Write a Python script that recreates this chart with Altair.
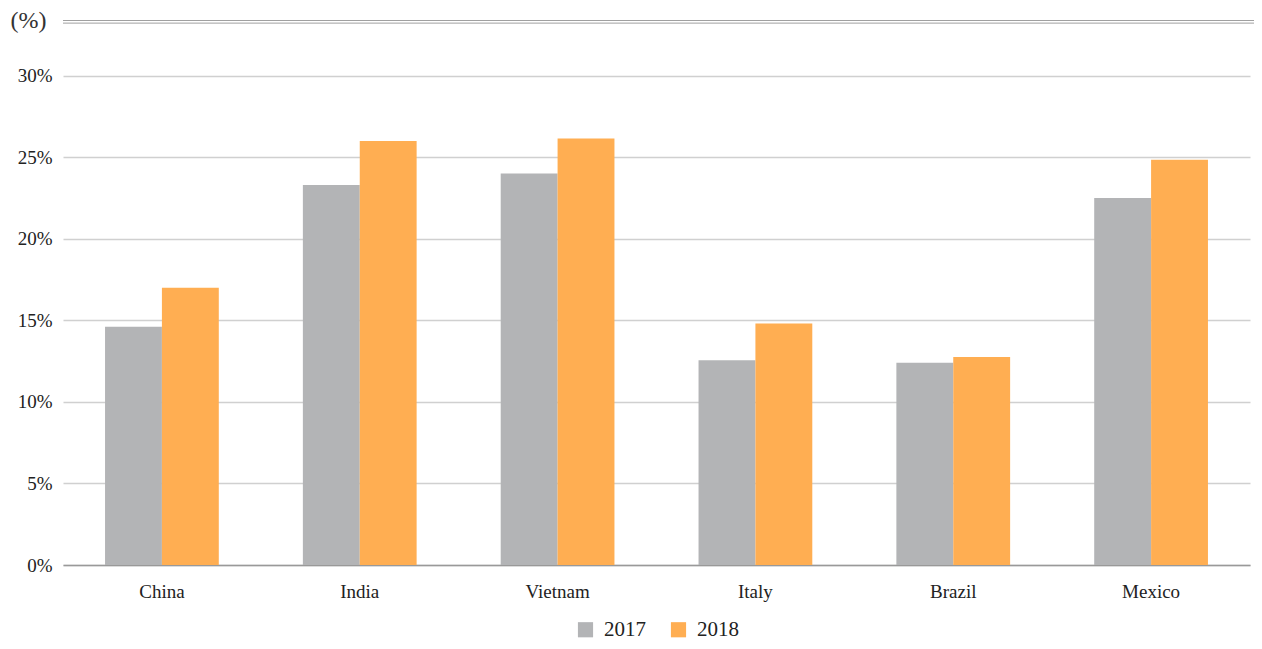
import altair as alt
import pandas as pd

countries = ["China", "India", "Vietnam", "Italy", "Brazil", "Mexico"]
v2017 = [14.6, 23.3, 24.0, 12.55, 12.4, 22.5]
v2018 = [17.0, 26.0, 26.15, 14.8, 12.75, 24.85]
years = ["2017", "2018"]
tick_values = [0, 5, 10, 15, 20, 25, 30]
top_lines = [33.22, 33.38]

rows = []
for c, a, b in zip(countries, v2017, v2018):
    rows.append({"country": c, "year": "2017", "value": a})
    rows.append({"country": c, "year": "2018", "value": b})
df = pd.DataFrame(rows)
lines_df = pd.DataFrame({"y": top_lines})

FONT = "Liberation Serif"
W, H = 1187, 544

bars = alt.Chart(df).mark_bar().encode(
    x=alt.X("country:N", sort=countries, title=None,
            scale=alt.Scale(paddingInner=0.425, paddingOuter=0.2125),
            axis=alt.Axis(labelAngle=0, labelFontSize=19, labelFont=FONT,
                          labelColor="#222", labelPadding=17, ticks=False,
                          grid=False,
                          domain=True, domainColor="#999", domainWidth=1.5)),
    xOffset=alt.XOffset("year:N", sort=years),
    y=alt.Y("value:Q", scale=alt.Scale(domain=[0, 33.35], nice=False),
            axis=alt.Axis(values=tick_values, labelExpr="datum.value + '%'",
                          labelFontSize=19, labelFont=FONT, labelColor="#222",
                          labelPadding=11, ticks=False, domain=False,
                          gridColor="#d0d0d0", gridWidth=1.5,
                          title="(%)", titleAngle=0, titleFont=FONT,
                          titleFontSize=24, titleFontWeight="normal",
                          titleColor="#333", titleAlign="left",
                          titleBaseline="middle", titleX=-53, titleY=-1)),
    color=alt.Color("year:N", sort=years,
                    scale=alt.Scale(domain=years, range=["#b3b4b6", "#ffae52"]),
                    legend=alt.Legend(title=None, orient="none", direction="horizontal",
                                      legendX=512, legendY=598,
                                      symbolType="square", symbolSize=230,
                                      symbolStrokeWidth=0, labelFont=FONT,
                                      labelFontSize=21, labelColor="#222",
                                      columnPadding=22, labelOffset=8)),
)

rules = alt.Chart(lines_df).mark_rule(color="#a0a0a0", strokeWidth=1).encode(
    y=alt.Y("y:Q"),
    x=alt.value(0),
    x2=alt.value(W + 4),
)

chart = alt.layer(bars, rules).properties(
    width=W, height=H,
    background="white",
    autosize=alt.AutoSizeParams(type="none"),
    padding={"left": 55, "top": 13, "right": 4, "bottom": 76},
).configure_view(stroke=None, strokeWidth=0)

chart.save("out.html", embed_options={"renderer": "svg", "actions": False})
